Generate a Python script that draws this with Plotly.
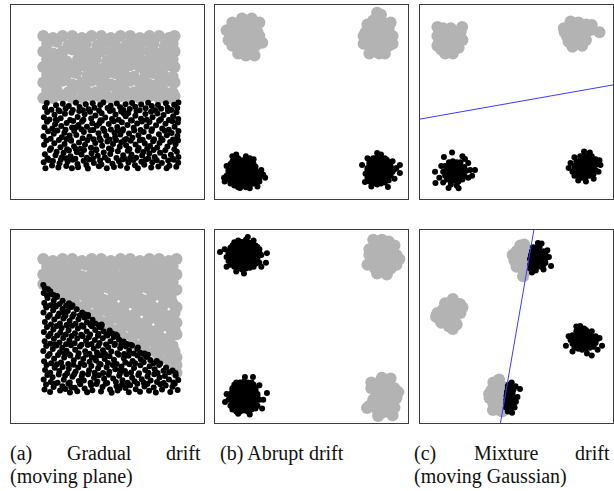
import plotly.graph_objects as go

# ---------------------------------------------------------------------------
# Data: every panel lives in a 0-100 x 0-100 feature space.
# Gray = class 1 (large markers), black = class 0 (small markers).
# ---------------------------------------------------------------------------

# (a) gradual drift, before: class split by a horizontal plane
grad_top_gray = [
    (17,84),(22,83),(27,84),(32,84),(37,83),(42,84),(47,84),(52,83),(57,84),(62,84),(67,83),(72,84),(77,84),(82,83),(85,84),
    (19,80),(24,81),(30,79),(34,80),(39,80),(45,79),(49,81),(54,80),(60,79),(64,80),(69,81),(74,80),(80,79),(84,80),
    (17,76),(22,75),(27,76),(32,77),(37,76),(42,75),(47,76),(52,76),(57,77),(62,75),(67,76),(72,76),(77,75),(82,76),(85,76),
    (19,72),(25,72),(29,71),(35,72),(39,73),(44,72),(50,71),(54,72),(59,73),(65,72),(69,71),(74,72),(79,73),(84,72),
    (17,68),(22,68),(27,67),(32,68),(37,69),(42,68),(47,67),(52,68),(57,68),(62,69),(67,68),(72,67),(77,68),(82,69),(85,68),
    (19,64),(24,63),(29,64),(34,65),(40,64),(44,63),(49,64),(54,65),(59,64),(64,63),(70,64),(74,65),(79,64),(84,63),
    (17,60),(22,60),(27,61),(32,59),(37,60),(42,61),(47,60),(52,59),(57,60),(62,61),(67,60),(72,59),(77,60),(82,61),(85,60),
    (19,56),(24,56),(30,55),(34,57),(39,56),(44,55),(49,56),(55,57),(59,56),(64,55),(69,56),(75,57),(79,56),(84,55),
    (17,52),(22,52),(27,53),(32,52),(37,52),(42,53),(47,52),(52,52),(57,53),(62,52),(67,52),(72,53),(77,52),(82,52),(85,53),
]
grad_top_black = [
    (17.2,18.9),(18.1,15.9),(19.9,20.1),(21.5,17.3),(22.0,19.6),(24.8,16.2),(25.4,18.4),(26.1,20.4),(28.9,17.0),(29.6,19.3),
    (31.8,15.8),(32.2,20.2),(34.7,18.1),(35.0,16.4),(37.9,19.7),(39.3,17.5),(40.1,15.7),(40.6,20.3),(43.2,18.6),(45.8,16.9),
    (46.4,19.9),(47.1,17.8),(49.9,15.9),(50.5,20.0),(52.8,18.2),(53.6,16.5),(56.2,19.4),(57.0,17.1),(57.9,20.4),(60.4,16.0),
    (61.1,18.8),(63.7,20.1),(64.5,17.4),(66.0,15.8),(67.8,19.2),(69.3,17.7),(70.2,20.3),(72.9,16.3),(73.5,18.9),(75.8,20.0),
    (76.6,16.8),(78.4,18.5),(80.9,15.9),(81.7,19.8),(82.3,17.2),(84.6,20.2),(85.9,16.6),(86.9,18.7),
    (17.8,23.1),(19.2,21.0),(20.4,25.2),(23.3,22.6),(23.9,24.4),(26.7,21.5),(27.5,23.8),(30.3,25.0),(31.1,22.1),(33.6,20.8),
    (34.4,24.1),(36.8,22.9),(38.1,25.3),(39.5,21.3),(42.0,23.6),(42.7,20.9),(44.5,25.1),(45.2,22.3),(48.3,24.0),(48.9,21.4),
    (51.7,23.2),(52.3,25.4),(54.9,21.1),(55.6,24.6),(58.4,22.5),(59.2,20.7),(60.8,24.9),(62.7,23.0),(65.1,21.2),(65.9,25.0),
    (68.2,22.4),(68.8,24.2),(71.4,20.9),(71.9,23.5),(74.1,25.2),(74.7,21.6),(77.5,23.9),(79.6,21.9),(80.2,25.1),(83.1,22.8),
    (84.0,20.8),(86.2,24.3),(87.0,21.7),(28.9,21.0),(62.0,21.1),
    (17.4,27.9),(18.6,30.2),(21.0,26.1),(22.7,28.8),(25.1,30.4),(25.9,26.7),(28.0,28.3),(29.3,25.7),(31.4,30.0),(32.9,27.2),
    (35.5,29.1),(36.3,25.9),(38.6,28.0),(39.8,30.3),(41.7,26.4),(43.9,28.9),(44.3,25.6),(46.8,30.1),(47.5,27.4),(50.2,29.6),
    (51.0,26.0),(53.1,28.4),(54.7,30.4),(56.6,26.9),(57.4,29.3),(59.9,27.7),(61.6,25.8),(62.3,30.0),(64.8,28.1),(66.4,26.3),
    (67.0,30.3),(69.6,28.6),(70.8,25.9),(72.3,27.3),(73.9,29.8),(76.0,26.5),(77.2,28.9),(78.8,30.4),(81.3,27.0),(82.7,29.4),
    (84.9,25.7),(85.5,28.2),(86.8,30.1),(33.8,25.8),(59.0,30.4),
    (17.1,32.4),(19.5,34.9),(20.8,31.0),(22.4,33.6),(24.3,35.3),(26.6,31.8),(27.9,34.2),(30.6,32.7),(31.2,30.6),(33.0,35.1),
    (34.1,33.0),(37.4,31.3),(38.0,34.6),(40.9,32.2),(41.5,35.4),(43.0,30.8),(45.6,33.9),(46.1,31.5),(48.7,35.0),(49.6,32.6),
    (51.4,30.7),(53.9,34.1),(54.2,31.9),(56.9,33.3),(58.1,35.2),(60.0,30.9),(61.4,33.7),(63.2,31.6),(64.1,35.3),(66.3,32.9),
    (68.5,30.6),(69.0,34.5),(71.7,32.1),(73.0,35.0),(74.4,30.8),(76.9,33.4),(78.1,31.2),(79.9,35.2),(81.0,32.8),(83.5,34.0),
    (84.2,30.7),(86.5,32.5),(87.0,35.1),(29.0,30.9),(55.5,35.4),
    (17.6,37.0),(18.9,39.8),(21.7,36.3),(23.1,38.5),(24.0,40.4),(26.3,37.6),(28.5,35.7),(29.1,39.2),(31.9,36.8),(32.5,40.2),
    (35.2,38.1),(36.7,35.9),(37.1,40.0),(39.6,37.3),(42.4,39.1),(42.9,35.6),(44.7,37.8),(47.3,40.3),(48.0,36.2),(50.9,38.6),
    (52.0,35.8),(53.5,40.1),(55.3,37.1),(57.7,39.5),(58.3,36.0),(60.6,38.2),(62.9,40.4),(63.8,36.7),(65.6,38.9),(67.4,35.6),
    (68.1,40.0),(70.5,37.4),(72.0,39.7),(73.3,35.9),(75.4,38.0),(77.0,40.3),(78.6,36.4),(80.3,38.8),(82.0,35.7),(83.8,40.1),
    (85.0,37.2),(86.7,39.4),(46.0,38.9),(34.0,37.0),
    (17.3,42.1),(19.0,44.8),(20.2,41.0),(22.8,43.4),(25.5,45.2),(26.0,41.6),(28.2,43.9),(30.9,40.7),(31.6,44.5),(34.8,42.3),
    (35.6,45.4),(37.8,40.9),(38.4,43.7),(41.2,45.0),(41.8,41.5),(44.0,43.0),(46.6,40.6),(47.2,44.2),(49.1,42.0),(51.5,45.3),
    (52.6,41.2),(54.4,43.6),(56.0,40.8),(57.3,45.1),(59.7,42.7),(61.0,44.3),(62.4,40.6),(64.7,42.9),(65.3,45.4),(67.6,41.4),
    (69.9,43.8),(70.6,40.9),(72.8,45.0),(73.6,42.2),(76.1,44.1),(77.9,41.1),(79.3,43.3),(81.6,45.3),(82.1,40.7),(84.3,42.6),
    (86.0,44.7),(86.9,41.3),(23.5,40.8),(58.8,44.0),
    (17.9,47.2),(18.8,49.5),(21.2,46.0),(23.6,48.3),(24.9,45.7),(27.1,49.1),(28.6,46.6),(30.2,48.0),(32.3,45.9),(33.9,49.6),
    (35.8,47.4),(37.5,45.8),(39.0,48.8),(40.4,46.3),(42.6,49.4),(43.5,47.0),(45.9,45.6),(46.5,48.5),(48.1,49.7),(50.3,46.9),
    (51.9,48.1),(53.0,45.8),(55.1,49.2),(56.8,47.3),(58.5,45.9),(59.6,48.9),(61.8,46.4),(63.0,49.5),(64.6,47.6),(66.9,45.7),
    (67.7,48.7),(70.0,46.8),(71.3,49.6),(73.2,47.9),(75.0,45.8),(76.4,48.4),(78.0,46.5),(80.5,49.3),(81.4,47.0),(83.3,45.9),
    (84.8,48.6),(86.4,46.9),(87.0,49.7),
]

# (a) gradual drift, after: the separating plane has rotated
grad_bot_gray = [
    (17,85),(22,84),(27,85),(32,85),(37,84),(42,85),(47,85),(52,84),(57,85),(62,85),(67,84),(72,85),(77,85),(82,84),(86,85),
    (19,81),(24,81),(29,80),(34,81),(39,82),(44,81),(49,80),(54,81),(59,81),(64,82),(69,81),(74,80),(79,81),(84,81),
    (17,77),(22,77),(27,78),(32,77),(37,76),(42,77),(47,78),(52,77),(57,76),(62,77),(67,78),(72,77),(77,76),(82,77),(86,77),
    (17,72),(19,73),(24,73),(29,74),(34,73),(39,72),(44,73),(49,74),(54,73),(59,72),(64,73),(69,74),(74,73),(79,72),(84,73),
    (21,69),(26,69),(31,70),(36,69),(41,68),(46,69),(51,70),(56,69),(61,68),(66,69),(71,70),(76,69),(81,68),(86,69),
    (28,65),(33,65),(38,66),(43,65),(48,64),(53,65),(58,66),(63,65),(68,64),(73,65),(78,66),(83,65),
    (34,61),(39,61),(44,62),(49,61),(54,60),(59,61),(64,62),(69,61),(74,60),(79,61),(84,62),(86,60),
    (40,57),(45,57),(50,58),(55,57),(60,56),(65,57),(70,58),(75,57),(80,56),(85,57),
    (46,53),(51,53),(56,54),(61,53),(66,52),(71,53),(76,54),(81,53),(86,52),
    (52,49),(57,49),(62,50),(67,49),(72,48),(77,49),(82,50),(85,48),
    (58,45),(63,45),(68,46),(73,45),(78,44),(83,45),(86,46),
    (64,41),(69,41),(74,42),(79,41),(84,40),
    (70,37),(75,37),(80,38),(85,37),
    (77,33),(82,33),(86,34),
    (83,29),(86,30),
    (86,26),
]
grad_bot_black = [
    (17.6,17.4),(18.4,20.0),(20.5,16.1),(22.3,18.7),(23.0,20.4),(25.7,16.8),(26.9,19.1),(28.4,17.6),(30.0,20.3),(30.8,15.8),
    (33.3,18.2),(34.6,16.5),(36.1,20.1),(38.4,17.9),(39.7,15.9),(41.8,19.5),(42.4,17.0),(44.6,20.2),(46.9,16.3),(47.7,18.6),
    (49.3,20.4),(51.6,17.3),(52.4,15.7),(54.9,19.0),(55.5,16.9),(57.8,20.0),(59.6,18.1),(61.3,15.9),(62.0,19.6),(64.9,17.5),
    (65.7,20.3),(67.1,16.2),(69.4,18.9),(70.9,20.2),(71.8,16.7),(74.2,18.4),(75.3,15.8),(77.6,20.1),(78.5,17.3),(80.4,19.4),
    (82.8,16.0),(83.9,18.8),(85.1,20.4),(86.6,17.1),(56.5,18.0),(31.5,18.5),
    (17.2,22.6),(19.1,24.9),(20.9,21.3),(21.8,23.7),(24.4,20.8),(25.0,25.1),(27.6,22.4),(28.3,24.6),(30.7,21.0),(32.1,23.9),
    (33.0,25.3),(35.4,21.8),(36.9,24.2),(38.0,22.0),(40.2,25.2),(41.5,20.9),(43.3,23.4),(45.0,21.5),(45.8,24.8),(48.5,22.9),
    (50.1,20.7),(50.9,25.0),(53.2,23.1),(54.6,21.2),(56.3,24.5),(58.0,22.2),(60.1,25.3),(60.7,20.8),(63.0,23.5),(64.3,21.6),
    (66.2,24.9),(68.0,22.7),(69.1,20.9),(71.0,24.1),(72.6,22.0),(74.5,25.2),(75.9,21.3),(77.2,23.6),(79.4,20.7),(80.0,24.4),
    (82.1,22.5),(84.4,21.0),(85.6,24.6),(86.9,22.3),
    (17.9,27.4),(18.7,30.1),(20.6,26.0),(22.9,28.6),(24.1,30.4),(25.3,26.9),(27.0,29.0),(29.4,25.8),(30.2,28.1),(32.6,30.2),
    (33.7,26.5),(35.1,28.7),(37.3,25.7),(38.2,30.0),(40.7,27.3),(41.9,29.5),(43.6,26.1),(45.4,28.4),(46.7,30.3),(48.0,25.9),
    (49.8,28.9),(51.2,26.6),(53.0,30.1),(54.3,27.8),(56.7,25.6),(57.5,29.3),(59.3,27.0),(61.6,30.4),(62.5,26.2),(64.0,28.5),
    (66.6,25.8),(67.3,29.9),(69.8,27.5),(71.4,26.0),(72.1,29.4),(74.7,27.9),(76.2,25.9),(77.0,30.0),(79.3,27.1),(80.6,28.8),
    (82.2,26.3),(84.0,27.2),(85.5,25.9),(57.0,27.5),
    (17.4,32.0),(19.3,34.7),(21.1,30.9),(22.6,33.3),(24.6,35.2),(26.2,31.4),(27.8,33.9),(29.9,30.6),(31.0,35.0),(32.8,32.5),
    (34.9,34.3),(36.4,30.8),(37.7,33.1),(39.2,35.3),(41.0,31.7),(42.2,34.0),(44.3,32.4),(46.0,30.7),(46.6,35.1),(48.8,33.2),
    (50.5,31.1),(51.3,34.6),(53.6,32.8),(55.0,30.6),(56.1,35.4),(58.7,33.6),(59.5,31.3),(61.2,34.8),(63.3,32.1),(64.6,30.9),
    (65.8,35.0),(67.5,33.0),(69.0,31.5),(70.3,34.2),(72.4,32.6),(74.1,31.0),(75.8,32.1),(77.6,30.8),(71.2,35.3),(44.9,34.9),
    (17.0,37.3),(18.5,39.9),(20.3,35.8),(21.9,38.4),(23.8,40.2),(25.6,36.6),(26.8,39.0),(29.0,37.4),(30.4,35.6),(31.3,40.3),
    (33.5,38.0),(35.3,36.1),(36.0,39.6),(38.7,37.2),(40.0,40.4),(40.9,35.9),(43.1,38.6),(44.8,36.5),(45.5,40.0),(47.9,37.7),
    (49.0,35.7),(50.6,39.3),(52.2,37.0),(53.9,40.4),(55.4,36.2),(56.8,38.9),(58.9,35.8),(59.8,39.7),(61.5,37.5),(63.0,40.2),
    (63.9,36.0),(65.7,38.3),(67.2,36.4),(68.8,35.9),(69.5,36.0),(66.0,39.1),(28.0,36.0),
    (17.7,42.4),(19.6,44.9),(20.6,41.0),(22.5,43.6),(24.2,45.3),(25.4,41.7),(27.3,44.0),(28.8,40.8),(30.5,42.9),(31.7,45.1),
    (33.2,41.3),(34.6,43.8),(36.8,40.6),(37.4,45.0),(39.1,42.5),(40.6,44.4),(42.0,40.9),(43.7,43.0),(45.3,45.2),(46.2,41.4),
    (47.8,43.9),(49.5,40.7),(50.2,45.4),(51.8,42.3),(53.5,44.6),(54.1,41.1),(56.2,43.2),(57.4,40.8),(58.6,42.2),(60.1,41.0),
    (62.3,40.6),(55.3,45.2),(23.0,40.8),
    (17.3,47.1),(18.9,49.8),(20.7,46.2),(22.2,48.5),(23.9,50.3),(25.8,46.8),(26.5,49.2),(28.7,45.9),(30.1,48.0),(31.9,50.4),
    (33.4,46.5),(34.9,48.9),(36.6,45.7),(37.8,49.9),(39.5,47.4),(41.3,45.8),(42.1,50.1),(43.9,48.2),(45.6,46.3),(46.4,49.6),
    (48.2,47.5),(49.7,45.9),(51.4,47.9),(52.8,46.4),(54.6,45.8),(47.3,50.2),(29.2,50.5),
    (17.8,52.3),(19.4,54.9),(21.0,51.0),(22.7,53.6),(24.5,55.3),(25.6,51.6),(27.4,54.1),(29.1,50.8),(30.6,52.9),(32.0,55.0),
    (33.7,51.4),(35.2,53.8),(36.9,50.6),(38.3,54.6),(39.6,52.2),(41.4,50.9),(42.5,53.5),(44.0,51.6),(45.8,50.7),(47.2,51.1),
    (40.0,55.2),(28.2,55.4),
    (17.1,57.2),(18.6,59.9),(20.4,56.0),(22.1,58.4),(23.5,60.3),(25.2,56.7),(26.9,59.1),(28.5,55.8),(29.7,58.0),(31.4,60.1),
    (32.8,56.4),(34.3,58.9),(35.9,55.7),(37.1,57.3),(38.8,56.2),(40.2,55.9),(27.0,57.6),
    (17.5,62.2),(19.2,64.8),(20.8,61.0),(22.4,63.5),(24.0,65.3),(25.5,61.7),(27.0,63.4),(28.8,60.7),(30.3,62.0),(32.1,61.0),
    (18.4,60.6),(23.3,60.9),
    (17.2,67.4),(18.9,66.0),(20.6,68.2),(22.3,66.3),(24.1,65.8),(17.8,70.0),(19.5,69.3),(21.0,66.9),(17.0,71.5),
]

# (b) abrupt drift, before: four Gaussian blobs
abrupt_top_gray_tl = [
    (15,84),(12,86),(18,87),(10,82),(14,80),(19,82),(16,90),(11,90),(8,86),(20,90),(22,86),(7,82),(13,77),(17,77),
    (21,79),(9,79),(23,84),(14,93),(19,93),(6,87),(12,83),(17,84),(23,91),(24.5,80.5),(20.5,74),(12,75),(15,87),
    (18,80),(13,89),(9,91),(16,74),
]
abrupt_top_gray_tr = [
    (84,85),(81,88),(87,88),(79,83),(84,81),(89,83),(86,92),(82,92),(78,86),(90,88),(92,84),(77,80),(81,78),(86,78),
    (90,79),(84,96),(85,75),(80,75),(88,75),(83,89),(87,85),(81,84),(91,91),(79,90),(86,95),(77,84),(92,80),(83,78),(88,81),
]
abrupt_top_black_bl = [
    (8,8),(10,7),(12,6),(14,7),(16,6),(18,7),(20,8),
    (9,8.3),(11,8),(13,8.4),(15,8),(17,8.5),(19,8.2),(21,8.6),
    (7,10),(9,10),(11,9),(13,10),(15,9),(17,10),(19,10),(21,9),(23,11),
    (8,11),(10,11.2),(12,11),(14,11.3),(16,11),(18,11.2),(20,11),(22,10.8),
    (6,12),(8,13),(10,12),(12,13),(14,12),(16,13),(18,12),(20,13),(22,12),
    (7,14),(9,13.8),(11,14.2),(13,14),(15,14.3),(17,14),(19,14.2),(21,13.8),(23,14),
    (7,15),(9,15),(11,16),(13,15),(15,16),(17,15),(19,16),(21,15),
    (9,16.8),(11,17),(13,16.7),(15,17.2),(17,16.8),(19,17),(21,16.6),
    (8,18),(10,17),(12,18),(14,18),(16,17),(18,19),(20,18),
    (9,19.3),(11,19.5),(13,19.2),(15,19.5),(17,19.3),(19,19.6),
    (10,20),(12,21),(14,20),(16,21),(18,21),(11,23),(16,22),
    (5,9),(4.7,11),(25,12.5),(26,11),(13,5.7),(18,5.5),(22,6.5),(9,22),(20,20.5),(24,15),(6,17),(23,9),
]
abrupt_top_black_br = [
    (80,9),(82,8),(84,7.5),(86,8),(88,8.5),(90,9.5),
    (81,9.8),(83,9.2),(85,9.5),(87,9.3),(89,9.8),
    (79,11),(81,11),(83,10),(85,11),(87,10),(89,11),(91,12),
    (80,12.2),(82,11.8),(84,12.3),(86,12),(88,12.2),(90,11.6),
    (78,13),(80,14),(82,13),(84,14),(86,13),(88,14),(90,13),(92,14),
    (79,15),(81,14.8),(83,15.4),(85,15),(87,15.3),(89,15),(91,15.5),(93,15.3),
    (79,16),(81,16),(83,17),(85,16),(87,17),(89,16),(91,17),
    (80,17.8),(82,17.2),(84,17.5),(86,18),(88,17.6),(90,17.8),
    (80,19),(82,18),(84,19),(86,19),(88,18),(90,19),
    (81,20.2),(83,19.8),(85,20.3),(87,19.8),(89,20.2),
    (82,21),(84,21.5),(86,21),(88,21),
    (84,23.7),(86,23),(95.8,17.5),(95.8,13.4),(94,16),(89.6,6.2),(77.7,8.8),(76.2,17.5),(93,10.5),(92,19.5),(79,21),(81,6.5),
]

# (b) abrupt drift, after: the labels of the top blobs are swapped
abrupt_bot_black_tl = [
    (8,82),(10,81),(12,80),(14,79.5),(16,80),(18,80.5),(20,81),
    (9,82.5),(11,82),(13,82.3),(15,81.8),(17,82.2),(19,82),(21,82.5),
    (7,84),(9,84),(11,83),(13,84),(15,83),(17,84),(19,83),(21,84),(23,83),
    (8,85.2),(10,85),(12,85.4),(14,85),(16,85.3),(18,85),(20,85.4),(22,85),
    (6,86),(8,87),(10,86),(12,87),(14,86),(16,87),(18,86),(20,87),(22,86),(24,87),
    (7,88),(9,87.8),(11,88.3),(13,88),(15,88.2),(17,87.8),(19,88.3),(21,88),(23,88.4),
    (7,89),(9,89),(11,90),(13,89),(15,90),(17,89),(19,90),(21,89),(23,90),
    (8,90.8),(10,91),(12,90.6),(14,91.2),(16,90.8),(18,91),(20,90.7),(22,91.2),
    (9,92),(11,92),(13,93),(15,92),(17,93),(19,92),(21,92),
    (10,93.6),(12,93.3),(14,93.8),(16,93.5),(18,93.4),(12,94.5),(16,95),
    (2.6,88.6),(17,96.4),(26.9,88),(26.4,83),(5,90),(20,94.5),(15,77.5),(11,78.5),(24,81),(6,81),
]
abrupt_bot_gray_tr = [
    (86,87),(83,89),(89,89),(81,85),(86,83),(91,85),(88,92),(84,93),(80,90),(91,90),(94,87),(79,82),(83,80),(87,79),
    (91,80),(86.5,95),(84,77.5),(89,77),(85,86),(89,84),(83,84),(93,92),(95.5,85),(82,95),(90,94),(94,82),(80,87),
]
abrupt_bot_black_bl = [
    (9,7),(11,6),(13,6),(15,6.5),(17,6),(19,7),(21,7.5),
    (10,8),(12,7.8),(14,8.3),(16,8),(18,8.2),(20,8.4),
    (8,9),(10,9),(12,10),(14,9),(16,10),(18,9),(20,10),(22,9),
    (9,10.8),(11,11),(13,10.7),(15,11.2),(17,10.8),(19,11),(21,10.6),
    (7,12),(9,12),(11,13),(13,12),(15,13),(17,12),(19,13),(21,12),(23,12),
    (8,13.8),(10,14),(12,13.6),(14,14.2),(16,13.8),(18,14),(20,13.7),(22,14),
    (8,15),(10,15),(12,16),(14,15),(16,16),(18,15),(20,16),(22,15),
    (9,16.8),(11,17),(13,16.6),(15,17.2),(17,16.8),(19,17),(21,16.7),
    (9,18),(11,18),(13,19),(15,18),(17,19),(19,18),(21,18),
    (10,19.8),(12,20),(14,19.7),(16,20.2),(18,19.9),(20,19.8),
    (11,21),(13,21),(15,21.5),(17,21),(19,21),
    (5.2,10.9),(26.9,15.5),(18,4.4),(24.4,7.5),(15.5,23.8),(19.7,23.8),(25,12),(6,15),(23,19.5),(12,4.8),
]
abrupt_bot_gray_br = [
    (87,14),(84,16),(90,16),(82,12),(87,10),(92,12),(89,20),(85,21),(81,18),(93,18),(94,13),(80,9),(84,7),(89,6),
    (93,8),(86.5,23.5),(78.8,7.8),(84.5,3.6),(88,17),(90,12),(83,13),(95,16),(91,23),(81,21),(86,5),(92,4),
]

# (c) mixture drift, before
mix_top_gray_tl = [
    (15,83),(12,85),(18,85),(10,81),(14,79),(19,81),(16,88),(12,88),(9,84),(21,86),(22,82),(11,77),(16,76),(20,78),
    (9,88.7),(21.8,88.7),(13,75),(17,75),(14,86),(17,82),(12,82),(9,79),(20,84),
]
mix_top_gray_tr = [
    (81,86),(78,88),(84,88),(76,84),(80,83),(85,84),(82,91),(78,91.5),(75,86),(86,90),(88,87),(77,81),(81,80),(84,79),
    (79,78.5),(89,89.7),(93,86),(83,86),(80,89),(86,82),(74.5,88),
]
mix_top_black_bl = [
    (14,10),(16,9),(18,9.5),(20,9),(22,10),
    (15,10.8),(17,11),(19,10.8),(21,11.2),
    (13,12),(15,12),(17,12),(19,12.5),(21,12),(23,12),
    (14,13.4),(16,13.2),(18,13.3),(20,13.6),(22,13),
    (12,14),(14,15),(16,14),(18,14),(20,15),(22,14),(24,14.5),
    (15,15.6),(17,15.4),(19,15.8),(21,15.5),
    (13,17),(15,17),(17,16.5),(19,17),(21,17),(23,16.5),
    (16,18),(18,18.2),(20,18),
    (15,19),(17,19.5),(19,19),(21,19),
    (16,7.5),(19,7),(12,8.5),(25,11),(26,15),(11,17),
    (16.6,24),(7.8,14),(8,8.2),(14.8,5.7),(28.5,15),(22,22),(25,18.5),(10,11),(20,5.5),(27,12),(12.4,21.6),(23.3,20.6),
]
mix_top_black_br = [
    (80,12),(82,11.5),(84,11),(86,11.5),(88,12),(90,13),
    (81,12.8),(83,12.6),(85,12.8),(87,13),(89,12.6),
    (79,14),(81,14),(83,14.5),(85,14),(87,14.5),(89,14),(91,15),
    (80,15.5),(82,15.8),(84,15.3),(86,15.6),(88,15.8),(90,15.4),
    (80,17),(82,17),(84,16.5),(86,17),(88,17),(90,17),(92,18),
    (82,18.5),(84,18.2),(86,18.6),(88,18.4),(90,18.7),
    (81,19.5),(83,20),(85,19.5),(87,20),(89,19.5),(91,20.5),
    (84,21),(86,21.2),(88,20.8),
    (83,22),(85,22.5),(87,22),(89,22),
    (85,24.5),(88,24),(77,16),(78,18.5),(93.5,17.5),(93,20),(82,9.5),(86,9),(90,10.5),(80,21.5),(92.5,14),
]
mix_top_boundary_x = [0, 100]
mix_top_boundary_y = [41.2, 58.8]

# (c) mixture drift, after: two Gaussians moved onto the boundary
mix_bot_gray_left = [
    (15,57),(12,56),(18,58),(10,54),(14,53),(18,54),(16,60),(12,59),(9,57),(20,61),(21,57),(11,52),(15,50),(17,48.7),
    (17,64.3),(20.7,61.7),(8.3,55),(13,62),(19,51),(22,60),(14,55),(17,61),
]
mix_bot_gray_top = [
    (52,92),(50,89),(53,89),(48,87),(51,86),(54,86),(49,84),(52,83),(55,83.5),(53,80),(54,78),(53.4,76),(50,81),
    (55,90),(54,92.5),(51,84),
]
mix_bot_black_top = [
    (57,80),(59,80.5),(61,81),(63,81),
    (58,81.5),(60,82),(62,82),(64,82),
    (57,82),(59,83),(61,83),(63,83.5),(65,83),
    (58,84),(60,84.2),(62,84),(64,84.3),
    (57,85),(59,85),(61,85.5),(63,85),(65,85),
    (58,86),(60,86.3),(62,86.2),(64,86),
    (57.5,87),(59,87.5),(61,87),(63,87),(65,87.5),
    (59,88.2),(61,88.5),(63,88.3),
    (58,89),(60,89.5),(62,89),(64,89),
    (59.5,90),(61.5,90.2),
    (58.5,91),(60.5,91),(62,91.5),
    (61.1,93.3),(63,93),(66.8,86),(67.9,81.3),(66,89.5),(58,78),(60,79),(64,79.5),
]
mix_bot_gray_bottom = [
    (38,21),(40,19),(42,19.5),(37,17),(40,16),(43,16),(36,13),(39,13),(42,13),(38,10),(41,10),(43,9),(37.8,6.7),
    (40,7),(42.5,6),(35.8,15),(41,22.5),
]
mix_bot_black_bottom = [
    (46,20),(47.5,21),(45.5,18),(47,18.5),(45,16),(46.5,16.5),(48,16),(44.8,14),(46.5,14),(48,14.5),(44.7,12),(46,12),
    (47.5,12.5),(44.6,10),(46,10),(47.5,10),(44.5,8),(46,8),(47.5,8.5),(45.5,6),(47,6),
    (45.5,19.2),(46.8,17.3),(45.6,15),(47.2,15.2),(45.5,13),(47,13.2),(45.3,11),(46.8,11),(45.2,9),(46.7,9.2),(46.2,7),
    (48.5,17.5),(48.7,12),(48.5,9.5),
    (51.8,17.6),(49.7,11),(47.7,5.3),(49.5,19),(49,8),(50.5,13.5),
]
mix_bot_black_right = [
    (80,39),(82,38.5),(84,38),(86,38.5),(88,39),(90,39.5),
    (81,39.8),(83,39.5),(85,39.7),(87,39.8),(89,40.2),
    (79,41),(81,41),(83,40.5),(85,41),(87,41),(89,41),(91,41.5),
    (80,42.2),(82,41.8),(84,42),(86,42.2),(88,42),(90,42.3),
    (78,43),(80,43.5),(82,43),(84,43),(86,43.5),(88,43),(90,43),(92,43.5),
    (80,44.5),(82,44.3),(84,44.6),(86,44.4),(88,44.3),(90,44.6),
    (79,45.5),(81,45),(83,45.5),(85,45),(87,45.5),(89,45),(91,45),
    (82,46.4),(84,46.2),(86,46.5),(88,46.3),
    (81,47.5),(83,47),(85,47.5),(87,47),(89,47.5),
    (84,48.4),(86,48.2),(83,49.5),(85,49),
    (75.6,40),(94.3,40),(83,50.3),(86.5,36),(89,35),(77,45),(93,44),(79,37),(92,38),(81,50),
]
mix_bot_boundary_x = [41.7, 59.0]
mix_bot_boundary_y = [0, 100]

# caption text: words of the first (justified) line, then the second line
captions = {
    "a": (["(a)", "Gradual", "drift"], "(moving plane)"),
    "b": (["(b) Abrupt drift"], ""),
    "c": (["(c)", "Mixture", "drift"], "(moving Gaussian)"),
}

# ---------------------------------------------------------------------------
# Layout helpers (pixel geometry of the 614 x 491 page)
# ---------------------------------------------------------------------------
W, H = 614, 491
GRAY = "#b3b3b3"
BLACK = "#000000"
GRAY_SIZE = 12
BLACK_SIZE = 6
FRAME = "#3c3c3c"

col_px = [(10.5, 203.5), (215.0, 408.0), (420.0, 613.0)]
row_px = [(5.0, 199.0), (230.0, 423.0)]


def xd(a, b):
    return [a / W, b / W]


def yd(top, bottom):
    return [1 - bottom / H, 1 - top / H]


panels = [
    (0, 0, [grad_top_gray], [grad_top_black], None),
    (1, 0, [abrupt_top_gray_tl, abrupt_top_gray_tr], [abrupt_top_black_bl, abrupt_top_black_br], None),
    (2, 0, [mix_top_gray_tl, mix_top_gray_tr], [mix_top_black_bl, mix_top_black_br],
     (mix_top_boundary_x, mix_top_boundary_y)),
    (0, 1, [grad_bot_gray], [grad_bot_black], None),
    (1, 1, [abrupt_bot_gray_tr, abrupt_bot_gray_br], [abrupt_bot_black_tl, abrupt_bot_black_bl], None),
    (2, 1, [mix_bot_gray_left, mix_bot_gray_top, mix_bot_gray_bottom],
     [mix_bot_black_top, mix_bot_black_bottom, mix_bot_black_right],
     (mix_bot_boundary_x, mix_bot_boundary_y)),
]

fig = go.Figure()
layout_axes = {}

for i, (c, r, grays, blacks, boundary) in enumerate(panels, start=1):
    xname = "x" if i == 1 else f"x{i}"
    yname = "y" if i == 1 else f"y{i}"
    for pts in grays:
        fig.add_trace(go.Scatter(
            x=[p[0] for p in pts], y=[p[1] for p in pts], mode="markers",
            marker=dict(color=GRAY, size=GRAY_SIZE, line=dict(width=0)),
            xaxis=xname, yaxis=yname, showlegend=False, hoverinfo="skip"))
    for pts in blacks:
        fig.add_trace(go.Scatter(
            x=[p[0] for p in pts], y=[p[1] for p in pts], mode="markers",
            marker=dict(color=BLACK, size=BLACK_SIZE, line=dict(width=0)),
            xaxis=xname, yaxis=yname, showlegend=False, hoverinfo="skip"))
    if boundary is not None:
        fig.add_trace(go.Scatter(
            x=boundary[0], y=boundary[1], mode="lines",
            line=dict(color="#3d3dff", width=1),
            xaxis=xname, yaxis=yname, showlegend=False, hoverinfo="skip"))

    axis_style = dict(range=[0, 100], showgrid=False, zeroline=False, showticklabels=False,
                      ticks="", showline=True, mirror=True, linecolor=FRAME, linewidth=1.3,
                      fixedrange=True)
    xkey = "xaxis" if i == 1 else f"xaxis{i}"
    ykey = "yaxis" if i == 1 else f"yaxis{i}"
    layout_axes[xkey] = dict(axis_style, domain=xd(*col_px[c]), anchor=yname)
    layout_axes[ykey] = dict(axis_style, domain=yd(*row_px[r]), anchor=xname)

# captions under each column; the first lines of (a) and (c) are justified
FONT = dict(family="Liberation Serif", size=20, color="#111111")
line1_y = 1 - 453 / H
line2_y = 1 - 476 / H
annotations = []


def word(text, x_px, y, anchor):
    annotations.append(dict(text=text, x=x_px / W, y=y, xref="paper", yref="paper",
                            xanchor=anchor, yanchor="middle", showarrow=False, font=FONT))


# (left edge, centre of the middle word, right edge) for each caption column
cap_cols = {"a": (8, 99.5, 203), "b": (218, None, 408), "c": (412, 506, 612)}
for key, (words, second) in captions.items():
    left, mid, right = cap_cols[key]
    if len(words) == 3:
        word(words[0], left, line1_y, "left")
        word(words[1], mid, line1_y, "center")
        word(words[2], right, line1_y, "right")
    else:
        word(words[0], left, line1_y, "left")
    if second:
        word(second, left, line2_y, "left")

fig.update_layout(
    width=W, height=H, margin=dict(l=0, r=0, t=0, b=0),
    paper_bgcolor="white", plot_bgcolor="white",
    annotations=annotations, **layout_axes)

fig.write_html("out.html")
